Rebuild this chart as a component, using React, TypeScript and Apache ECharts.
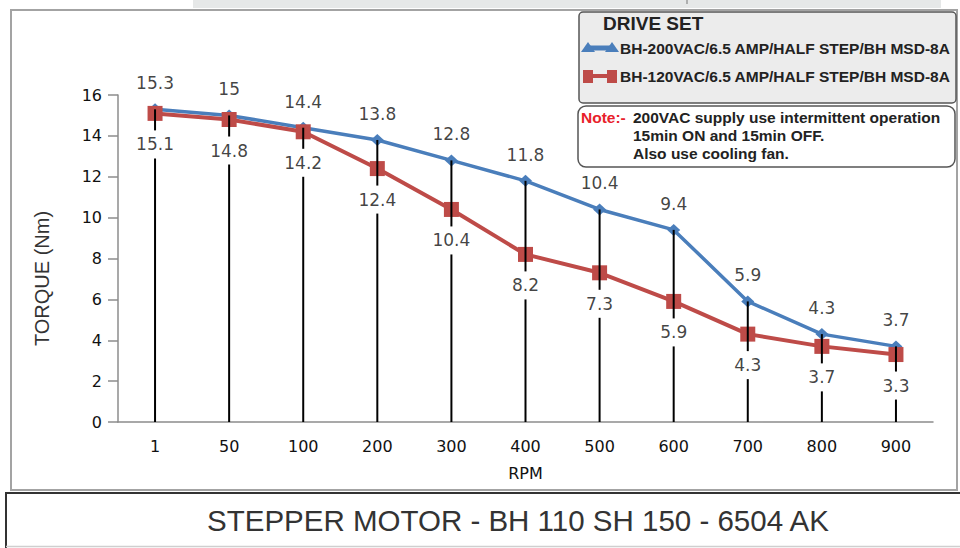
import React, { useEffect, useRef } from "react";
import * as echarts from "echarts";

const categories = ["1", "50", "100", "200", "300", "400", "500", "600", "700", "800", "900"];
const blueValues = [15.3, 15, 14.4, 13.8, 12.8, 11.8, 10.4, 9.4, 5.9, 4.3, 3.7];
const redValues = [15.1, 14.8, 14.2, 12.4, 10.4, 8.2, 7.3, 5.9, 4.3, 3.7, 3.3];
const blueName = "BH-200VAC/6.5 AMP/HALF STEP/BH MSD-8A";
const redName = "BH-120VAC/6.5 AMP/HALF STEP/BH MSD-8A";
const legendTitle = "DRIVE SET";
const noteLabel = "Note:-";
const noteLines = [
  "200VAC supply use intermittent operation",
  "15min ON and 15min OFF.",
  "Also use cooling fan.",
];
const chartTitle = "STEPPER MOTOR - BH 110 SH 150 - 6504 AK";
const xAxisName = "RPM";
const yAxisName = "TORQUE (Nm)";

const BLUE = "#4A7EBB";
const RED = "#BE4B48";
const NUM_FONT = "DejaVu Sans";
const SANS = "Liberation Sans, Arial, sans-serif";

// pixel layout of the lower (red) value labels, used to break the drop lines behind them
const RED_LABEL_DIST = 16;
const RED_LABEL_GAP_TOP = 17;
const RED_LABEL_GAP_BOTTOM = 45;

export default function App() {
  const ref = useRef<HTMLDivElement>(null);

  useEffect(() => {
    if (!ref.current) return;
    const chart = echarts.init(ref.current, null, { renderer: "svg" });
    const dropData = categories.map((_, i) => [i, Math.max(blueValues[i], redValues[i]), redValues[i]]);

    const option: any = {
      animation: false,
      backgroundColor: "#ffffff",
      grid: { left: 118, right: 27, top: 95, bottom: 126 },
      xAxis: {
        type: "category",
        data: categories,
        boundaryGap: true,
        name: xAxisName,
        nameLocation: "middle",
        nameGap: 43,
        nameTextStyle: { fontFamily: NUM_FONT, fontSize: 16, color: "#111" },
        axisLine: { lineStyle: { color: "#8c8c8c", width: 1.5 } },
        axisTick: { show: false },
        axisLabel: { fontFamily: NUM_FONT, fontSize: 16, color: "#111", margin: 16 },
        splitLine: { show: false },
      },
      yAxis: {
        type: "value",
        min: 0,
        max: 16,
        interval: 2,
        name: yAxisName,
        nameLocation: "middle",
        nameGap: 66,
        nameRotate: 90,
        nameTextStyle: { fontFamily: SANS, fontSize: 20, color: "#333", padding: [0, 40, 0, 0] },
        axisLine: { show: true, lineStyle: { color: "#8c8c8c", width: 1.5 } },
        axisTick: { show: true, length: 10, lineStyle: { color: "#8c8c8c", width: 1.5 } },
        axisLabel: { fontFamily: NUM_FONT, fontSize: 16, color: "#111", margin: 16 },
        splitLine: { show: false },
      },
      series: [
        {
          name: blueName,
          type: "line",
          data: blueValues,
          z: 2,
          symbol: "diamond",
          symbolSize: [13, 12],
          lineStyle: { color: BLUE, width: 3.5 },
          itemStyle: { color: BLUE },
          emphasis: { disabled: true },
          silent: true,
        },
        {
          name: redName,
          type: "line",
          data: redValues,
          z: 2,
          symbol: "rect",
          symbolSize: 15,
          lineStyle: { color: RED, width: 4 },
          itemStyle: { color: RED },
          emphasis: { disabled: true },
          silent: true,
        },
        {
          type: "custom",
          z: 3,
          silent: true,
          data: dropData,
          encode: { x: 0, y: 1 },
          renderItem: (params: any, api: any) => {
            const top = api.coord([api.value(0), api.value(1)]);
            const red = api.coord([api.value(0), api.value(2)]);
            const bot = api.coord([api.value(0), 0]);
            const gapTop = red[1] + RED_LABEL_GAP_TOP;
            const gapBottom = Math.min(bot[1], red[1] + RED_LABEL_GAP_BOTTOM);
            const st = { stroke: "#000", lineWidth: 2 };
            return {
              type: "group",
              children: [
                { type: "line", shape: { x1: bot[0], y1: bot[1], x2: bot[0], y2: gapBottom }, style: st },
                { type: "line", shape: { x1: top[0], y1: gapTop, x2: top[0], y2: top[1] }, style: st },
              ],
            };
          },
        },
        {
          type: "scatter",
          z: 6,
          silent: true,
          data: blueValues,
          symbolSize: 1,
          itemStyle: { color: "rgba(255,255,255,0)" },
          label: {
            show: true,
            position: "top",
            distance: 17,
            fontFamily: NUM_FONT,
            fontSize: 17,
            color: "#111",
          },
          emphasis: { disabled: true },
        },
        {
          type: "scatter",
          z: 6,
          silent: true,
          data: redValues,
          symbolSize: 1,
          itemStyle: { color: "rgba(255,255,255,0)" },
          label: {
            show: true,
            position: "bottom",
            distance: RED_LABEL_DIST,
            fontFamily: NUM_FONT,
            fontSize: 17,
            color: "#111",
            padding: [6, 8, 6, 8],
          },
          emphasis: { disabled: true },
        },
      ],
      graphic: [
        { type: "rect", z: 0, shape: { x: 193, y: 0, width: 748, height: 8 }, style: { fill: "#e6e8e8" } },
        { type: "line", z: 0, shape: { x1: 687, y1: 0, x2: 687, y2: 4 }, style: { stroke: "#777", lineWidth: 1 } },
        {
          type: "rect",
          z: 0,
          shape: { x: 11, y: 10, width: 946, height: 480 },
          style: { fill: "none", stroke: "#a3a3a3", lineWidth: 2 },
        },
        {
          type: "polyline",
          z: 10,
          shape: { points: [[965, 493], [6, 493], [6, 548]] },
          style: { fill: "none", stroke: "#333", lineWidth: 2 },
        },
        { type: "line", z: 10, shape: { x1: 6, y1: 546.5, x2: 960, y2: 546.5 }, style: { stroke: "#cfcfcf", lineWidth: 1.5 } },
        {
          type: "text",
          z: 10,
          x: 518,
          y: 520,
          style: {
            text: chartTitle,
            fontFamily: SANS,
            fontSize: 29.5,
            fill: "#333",
            align: "center",
            verticalAlign: "middle",
          },
        },
        {
          type: "rect",
          z: 10,
          shape: { x: 579, y: 12, width: 377, height: 91, r: 4 },
          style: { fill: "#ececec", stroke: "#555", lineWidth: 1.5 },
        },
        {
          type: "text",
          z: 11,
          x: 603,
          y: 23,
          style: { text: legendTitle, fontFamily: SANS, fontWeight: "bold", fontSize: 19, fill: "#222", verticalAlign: "middle" },
        },
        { type: "line", z: 11, shape: { x1: 587, y1: 48, x2: 612, y2: 48 }, style: { stroke: BLUE, lineWidth: 5 } },
        { type: "polygon", z: 11, shape: { points: [[581, 52], [588, 42], [595, 52]] }, style: { fill: BLUE } },
        { type: "polygon", z: 11, shape: { points: [[605, 52], [612, 42], [619, 52]] }, style: { fill: BLUE } },
        {
          type: "text",
          z: 11,
          x: 620,
          y: 48,
          style: { text: blueName, fontFamily: SANS, fontWeight: "bold", fontSize: 15.5, fill: "#222", verticalAlign: "middle" },
        },
        { type: "line", z: 11, shape: { x1: 590, y1: 76, x2: 610, y2: 76 }, style: { stroke: RED, lineWidth: 4 } },
        { type: "rect", z: 11, shape: { x: 583, y: 70, width: 10, height: 13 }, style: { fill: RED } },
        { type: "rect", z: 11, shape: { x: 607, y: 70, width: 10, height: 13 }, style: { fill: RED } },
        {
          type: "text",
          z: 11,
          x: 620,
          y: 76,
          style: { text: redName, fontFamily: SANS, fontWeight: "bold", fontSize: 15.5, fill: "#222", verticalAlign: "middle" },
        },
        {
          type: "rect",
          z: 10,
          shape: { x: 578, y: 106, width: 377, height: 61, r: 8 },
          style: { fill: "#ffffff", stroke: "#555", lineWidth: 1.5 },
        },
        {
          type: "text",
          z: 11,
          x: 581,
          y: 117,
          style: { text: noteLabel, fontFamily: SANS, fontWeight: "bold", fontSize: 15.5, fill: "#e8212b", verticalAlign: "middle" },
        },
        ...noteLines.map((t, i) => ({
          type: "text",
          z: 11,
          x: 633,
          y: 117 + i * 18,
          style: { text: t, fontFamily: SANS, fontWeight: "bold", fontSize: 15.5, fill: "#222", verticalAlign: "middle" },
        })),
      ],
    };

    chart.setOption(option);
    return () => chart.dispose();
  }, []);

  return (
    <div
      ref={ref}
      style={{ position: "fixed", left: 0, top: 0, width: 960, height: 548, background: "#fff" }}
    />
  );
}
